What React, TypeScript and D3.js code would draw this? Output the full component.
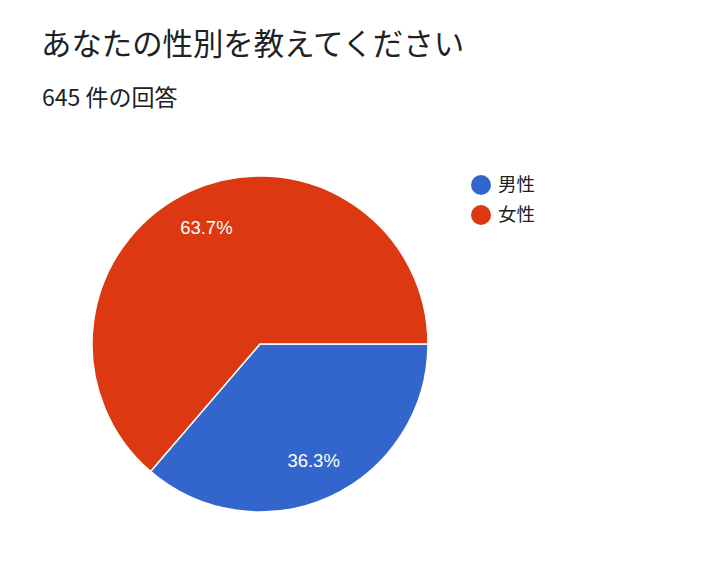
import React from "react";
import * as d3 from "d3";

const categories = ["男性", "女性"];
const values = [36.3, 63.7];
const colors = ["#3366cc", "#dc3912"];
const title = "あなたの性別を教えてください";
const subtitle = "645 件の回答";

export default function App() {
  const width = 711;
  const height = 574;
  const cx = 260;
  const cy = 344;
  const r = 168;
  const pie = d3
    .pie<number>()
    .sort(null)
    .startAngle(Math.PI / 2)
    .endAngle(Math.PI / 2 + 2 * Math.PI)
    .value((d) => d);
  const arcs = pie(values);
  const arc = d3.arc<d3.PieArcDatum<number>>().innerRadius(0).outerRadius(r);
  const labelArc = d3
    .arc<d3.PieArcDatum<number>>()
    .innerRadius(r * 0.765)
    .outerRadius(r * 0.765);
  return (
    <svg
      width={width}
      height={height}
      style={{ position: "absolute", left: 0, top: 0, background: "#fff" }}
    >
      <rect width={width} height={height} fill="#fff" />
      <text
        x={41}
        y={55}
        fontSize={30.4}
        fill="#202124"
        fontFamily="'Noto Sans CJK JP', sans-serif"
      >
        {title}
      </text>
      <text
        x={42}
        y={106}
        fontSize={23}
        fill="#202124"
        fontFamily="'Noto Sans CJK JP', sans-serif"
      >
        {subtitle}
      </text>
      <g transform={`translate(${cx},${cy})`}>
        {arcs.map((a, i) => (
          <path
            key={i}
            d={arc(a) || ""}
            fill={colors[i]}
            stroke="#fff"
            strokeWidth={1.5}
          />
        ))}
        {arcs.map((a, i) => {
          const [x, y] = labelArc.centroid(a);
          return (
            <text
              key={"l" + i}
              x={x}
              y={y}
              dy="0.36em"
              textAnchor="middle"
              fontSize={18.5}
              fill="#fff"
              fontFamily="'Liberation Sans', Arial, sans-serif"
            >
              {values[i].toFixed(1) + "%"}
            </text>
          );
        })}
      </g>
      <g>
        {categories.map((c, i) => (
          <g key={c} transform={`translate(481,${185 + i * 30})`}>
            <circle r={10} fill={colors[i]} />
            <text
              x={17}
              y={0}
              dy="0.35em"
              fontSize={18.5}
              fill="#202124"
              fontFamily="'Noto Sans CJK JP', sans-serif"
            >
              {c}
            </text>
          </g>
        ))}
      </g>
    </svg>
  );
}
